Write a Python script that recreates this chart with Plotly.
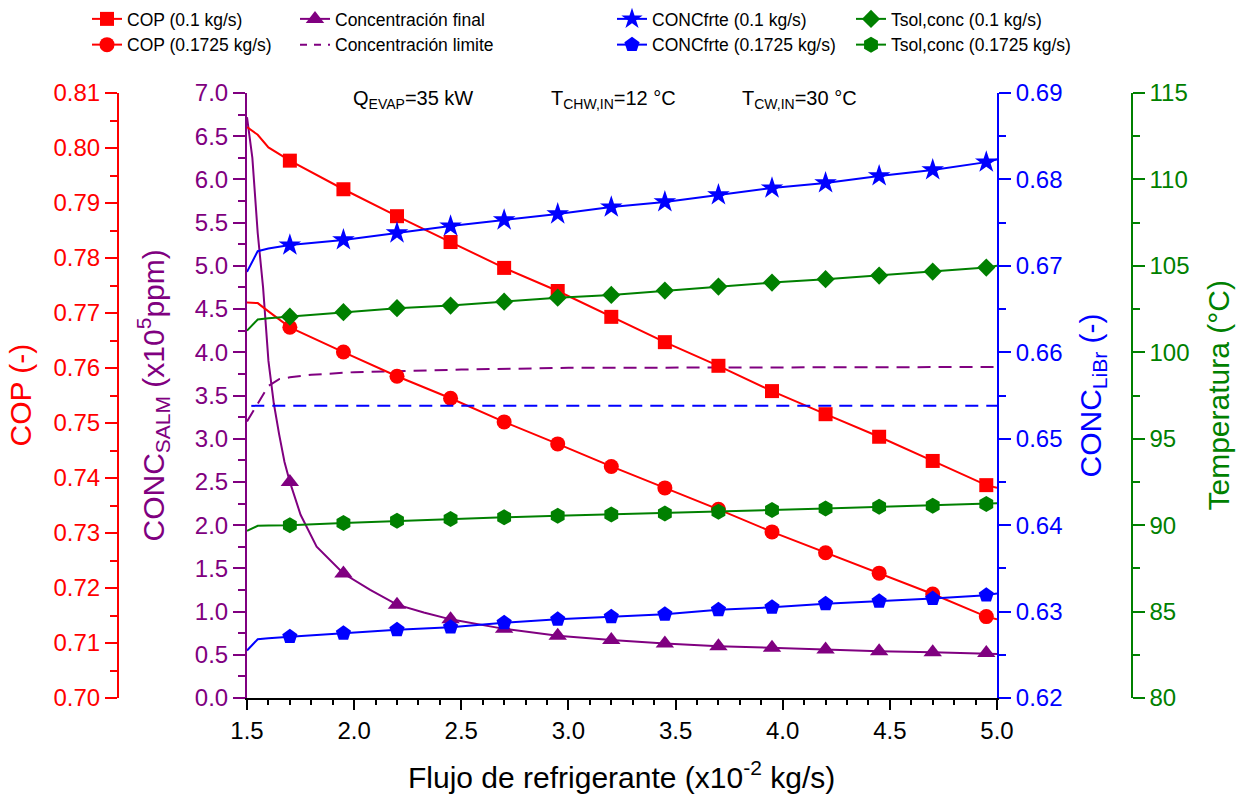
import plotly.graph_objects as go

# ---------------- data ----------------
FLUJO = [1.5, 1.55, 1.6, 1.7, 1.95, 2.2, 2.45, 2.7, 2.95, 3.2, 3.45, 3.7, 3.95, 4.2, 4.45, 4.7, 4.95, 5.0]
MARKED = [1.7, 1.95, 2.2, 2.45, 2.7, 2.95, 3.2, 3.45, 3.7, 3.95, 4.2, 4.45, 4.7, 4.95]

cop_01 = [0.8038, 0.8024, 0.8001, 0.7977, 0.7925, 0.7876, 0.7829, 0.7782, 0.7740, 0.7693,
          0.7647, 0.7604, 0.7558, 0.7516, 0.7475, 0.7431, 0.7387, 0.7382]
cop_01725 = [0.7719, 0.7718, 0.7703, 0.7674, 0.7629, 0.7585, 0.7545, 0.7502, 0.7462, 0.7421,
             0.7382, 0.7343, 0.7302, 0.7264, 0.7227, 0.7189, 0.7148, 0.7143]
concfrte_01 = [0.6693, 0.6717, 0.6720, 0.6724, 0.6730, 0.6738, 0.6746, 0.6753, 0.6760, 0.6768,
               0.6774, 0.6782, 0.6790, 0.6796, 0.6804, 0.6811, 0.6820, 0.6823]
concfrte_01725 = [0.6255, 0.6268, 0.6269, 0.6271, 0.6275, 0.6279, 0.6282, 0.6287, 0.6291, 0.6294,
                  0.6297, 0.6302, 0.6305, 0.6309, 0.6312, 0.6315, 0.6319, 0.6321]
tsol_01 = [101.25, 101.90, 101.97, 102.06, 102.32, 102.55, 102.70, 102.93, 103.16, 103.32,
           103.57, 103.80, 104.03, 104.23, 104.44, 104.67, 104.90, 105.00]
tsol_01725 = [89.67, 89.96, 89.98, 90.00, 90.13, 90.25, 90.35, 90.45, 90.54, 90.62,
              90.68, 90.77, 90.87, 90.97, 91.06, 91.12, 91.22, 91.26]

flujo_final = [1.5, 1.525, 1.55, 1.575, 1.6, 1.625, 1.65, 1.675, 1.7, 1.75, 1.825, 1.95, 2.075,
               2.2, 2.325, 2.45, 2.7, 2.95, 3.2, 3.45, 3.7, 3.95, 4.2, 4.45, 4.7, 4.95, 5.0]
conc_final = [6.72, 6.25, 5.38, 4.75, 3.90, 3.41, 3.05, 2.73, 2.50, 2.12, 1.75, 1.44, 1.25,
              1.08, 0.99, 0.91, 0.80, 0.72, 0.67, 0.63, 0.60, 0.58, 0.56, 0.54, 0.53, 0.52, 0.51]

flujo_limite = [1.5, 1.55, 1.6, 1.65, 1.7, 1.8, 2.0, 2.5, 3.0, 5.0]
conc_limite = [3.20, 3.41, 3.61, 3.69, 3.71, 3.74, 3.77, 3.80, 3.82, 3.83]

flujo_libr_lim = [1.52, 5.0]
conc_libr_lim = [0.6538, 0.6538]

# ---------------- styling ----------------
W, H = 1244, 799
PL, PR, PT, PB = 247, 997, 93, 698
RED, PURPLE, BLUE, GREEN = "#FF0000", "#800080", "#0000FF", "#008000"
FONT = "Liberation Sans"

fig = go.Figure()


def add(x, y, name, color, symbol, msize, yaxis, legend, dash=None, legend_dash=None,
        showlegend=True):
    line = dict(color=color, width=2)
    if dash:
        line["dash"] = dash
    # full curve
    fig.add_trace(go.Scatter(x=x, y=y, name=name, yaxis=yaxis, showlegend=False,
                             mode="lines", line=line))
    if symbol is not None:
        marked = {round(v, 3) for v in MARKED}
        mx = [a for a in x if round(a, 3) in marked]
        my = [b for a, b in zip(x, y) if round(a, 3) in marked]
        fig.add_trace(go.Scatter(x=mx, y=my, name=name, yaxis=yaxis, showlegend=False,
                                 mode="markers",
                                 marker=dict(symbol=symbol, size=msize, color=color, opacity=1)))
    if showlegend:
        lline = dict(color=color, width=2)
        if legend_dash:
            lline["dash"] = legend_dash
        fig.add_trace(go.Scatter(
            x=[None], y=[None], name=name, yaxis=yaxis, legend=legend, showlegend=True,
            mode="lines+markers" if symbol else "lines", line=lline,
            marker=dict(symbol=symbol, size=msize, color=color, opacity=1) if symbol else None))


add(FLUJO, cop_01, "COP (0.1 kg/s)", RED, "square", 14, "y2", "legend")
add(FLUJO, cop_01725, "COP (0.1725 kg/s)", RED, "circle", 15, "y2", "legend")
add(flujo_final, conc_final, "Concentración final", PURPLE, "triangle-up", 16, "y", "legend2")
add(flujo_limite, conc_limite, "Concentración limite", PURPLE, None, 0, "y", "legend2",
    dash="13px,8px", legend_dash="7px,7px")
add(FLUJO, concfrte_01, "CONCfrte (0.1 kg/s)", BLUE, "star", 17, "y3", "legend3")
add(FLUJO, concfrte_01725, "CONCfrte (0.1725 kg/s)", BLUE, "pentagon", 16, "y3", "legend3")
add(flujo_libr_lim, conc_libr_lim, "Límite LiBr", BLUE, None, 0, "y3", "legend3",
    dash="13px,8px", showlegend=False)
add(FLUJO, tsol_01, "Tsol,conc (0.1 kg/s)", GREEN, "diamond", 14, "y4", "legend4")
add(FLUJO, tsol_01725, "Tsol,conc (0.1725 kg/s)", GREEN, "hexagon", 16, "y4", "legend4")


def yax(color, rng, dtick, minor, fmt, **kw):
    d = dict(range=rng, dtick=dtick, tickformat=fmt, showgrid=False, zeroline=False,
             showline=True, linecolor=color, linewidth=2,
             ticks="outside", ticklen=12, tickwidth=2, tickcolor=color,
             minor=dict(dtick=minor, ticks="outside", ticklen=7, tickwidth=2, tickcolor=color),
             tickfont=dict(family=FONT, size=24, color=color))
    d.update(kw)
    return d


def legend(xpx, ypx):
    return dict(x=xpx / W, y=1 - ypx / H, xanchor="left", yanchor="top", orientation="v",
                bgcolor="rgba(0,0,0,0)", itemsizing="trace", tracegroupgap=0,
                font=dict(family=FONT, size=17.5, color="black"))


fig.update_layout(
    width=W, height=H, margin=dict(l=0, r=0, t=0, b=0, autoexpand=False),
    paper_bgcolor="white", plot_bgcolor="white",
    font=dict(family=FONT, color="black"),
    xaxis=dict(domain=[PL / W, PR / W], range=[1.5, 5.0], dtick=0.5, tick0=1.5, tickformat=".1f",
               showgrid=False, zeroline=False, showline=True, linecolor="black", linewidth=2,
               ticks="outside", ticklen=10, tickwidth=2, tickcolor="black",
               minor=dict(dtick=0.1, ticks="outside", ticklen=5, tickwidth=2, tickcolor="black"),
               tickfont=dict(family=FONT, size=24, color="black")),
    yaxis=yax(PURPLE, [0, 7], 0.5, 0.25, ".1f", domain=[1 - PB / H, 1 - PT / H], anchor="x"),
    yaxis2=yax(RED, [0.70, 0.81], 0.01, 0.005, ".2f", overlaying="y", anchor="free",
               position=118 / W, side="left"),
    yaxis3=yax(BLUE, [0.62, 0.69], 0.01, 0.005, ".2f", overlaying="y", anchor="x", side="right"),
    yaxis4=yax(GREEN, [80, 115], 5, 2.5, "d", overlaying="y", anchor="free",
               position=1131.7 / W, side="right"),
    legend=legend(87, 1),
    legend2=legend(295, 1),
    legend3=legend(612, 1),
    legend4=legend(851, 1),
)

ymid = 1 - ((PT + PB) / 2) / H
title_font = lambda c: dict(family=FONT, size=30, color=c)
annots = [
    dict(text="COP (-)", x=20 / W, y=ymid, textangle=-90, font=title_font(RED)),
    dict(text="CONC<sub>SALM</sub> (x10<sup>5</sup>ppm)", x=153 / W, y=ymid, textangle=-90,
         font=title_font(PURPLE)),
    dict(text="CONC<sub>LiBr</sub> (-)", x=1092 / W, y=ymid, textangle=-90, font=title_font(BLUE)),
    dict(text="Temperatura (°C)", x=1218 / W, y=ymid, textangle=-90, font=title_font(GREEN)),
    dict(text="Flujo de refrigerante (x10<sup>-2</sup> kg/s)", x=621 / W, y=1 - 774.5 / H,
         font=title_font("black")),
]
for a in annots:
    a.update(xref="paper", yref="paper", showarrow=False, xanchor="center", yanchor="middle")
    fig.add_annotation(**a)

for txt, xpx in [("Q<sub>EVAP</sub>=35 kW", 351), ("T<sub>CHW,IN</sub>=12 °C", 549),
                 ("T<sub>CW,IN</sub>=30 °C", 740)]:
    fig.add_annotation(text=txt, x=xpx / W, y=1 - 99.5 / H, xref="paper", yref="paper",
                       showarrow=False, xanchor="left", yanchor="middle",
                       font=dict(family=FONT, size=20, color="black"))

fig.write_html("out.html")
